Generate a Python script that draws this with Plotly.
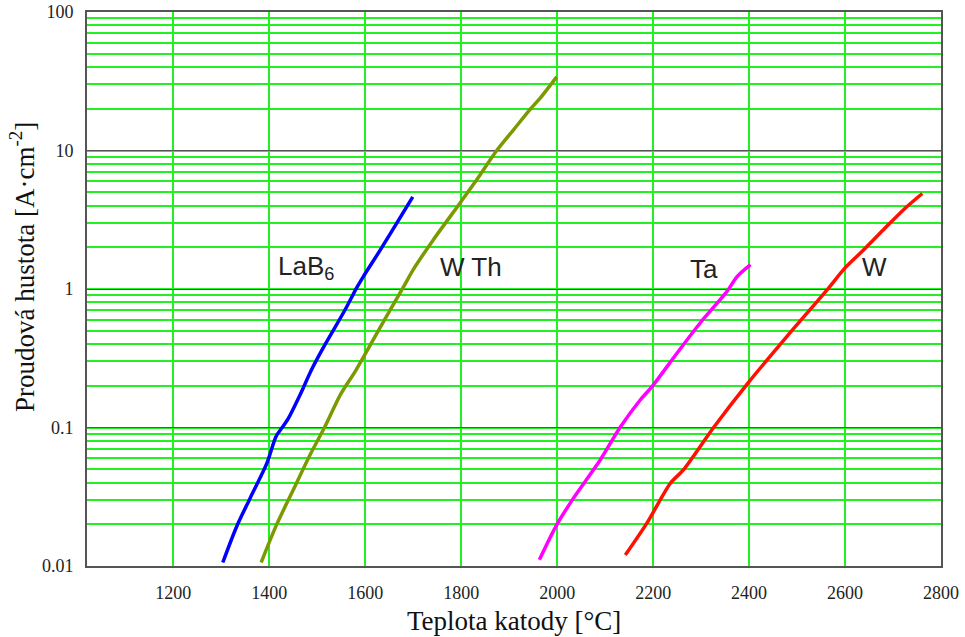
import math
import plotly.graph_objects as go

# Data (temperature in °C, current density in A/cm^2)
lab6_t = [1303, 1332, 1360, 1395, 1414, 1426, 1440, 1464, 1488, 1516, 1558, 1582, 1596, 1634, 1699]
lab6_j = [0.0106, 0.0193, 0.0309, 0.0553, 0.0861, 0.099, 0.117, 0.172, 0.261, 0.396, 0.708, 1.02, 1.23, 1.98, 4.62]

wth_t = [1383, 1415, 1450, 1485, 1516, 1548, 1581, 1630, 1680, 1700, 1742, 1798, 1833, 1874, 1909, 1944, 1965, 1999]
wth_j = [0.0106, 0.0198, 0.0355, 0.0636, 0.1016, 0.172, 0.261, 0.52, 1.04, 1.38, 2.27, 4.2, 6.2, 10.0, 14.1, 19.9, 24.0, 34.0]

ta_t = [1963, 1999, 2034, 2090, 2131, 2173, 2198, 2250, 2298, 2354, 2375, 2403]
ta_j = [0.0111, 0.0198, 0.0309, 0.0585, 0.1, 0.158, 0.198, 0.345, 0.568, 0.962, 1.23, 1.50]

w_t = [2142, 2187, 2236, 2263, 2326, 2398, 2479, 2563, 2600, 2632, 2680, 2722, 2761]
w_j = [0.0120, 0.0204, 0.0396, 0.0494, 0.1, 0.21, 0.455, 0.99, 1.42, 1.82, 2.68, 3.74, 4.89]

x_ticks = [1200, 1400, 1600, 1800, 2000, 2200, 2400, 2600, 2800]
y_ticks = [0.01, 0.1, 1, 10, 100]
y_ticktext = ["0.01", "0.1", "1", "10", "100"]

labels = ["LaB<sub>6</sub>", "W Th", "Ta", "W"]
label_t = [1477, 1821, 2306, 2662]
label_j = [1.43, 1.43, 1.40, 1.43]

series = [
    (lab6_t, lab6_j, "#0000ff"),
    (wth_t, wth_j, "#7a9a00"),
    (ta_t, ta_j, "#ff00ff"),
    (w_t, w_j, "#ff1000"),
]

SERIF = "Liberation Serif, Times New Roman, serif"
GREEN = "#22f022"

fig = go.Figure()
for t, j, c in series:
    fig.add_trace(go.Scatter(x=t, y=j, mode="lines",
                             line=dict(color=c, width=3.5, shape="spline", smoothing=0.8),
                             showlegend=False, hoverinfo="skip"))

for txt, t, j in zip(labels, label_t, label_j):
    # annotations on a log axis take log10 coordinates
    fig.add_annotation(x=t, y=math.log10(j), xref="x", yref="y", text=txt, showarrow=False,
                       font=dict(family="Liberation Sans, Arial", size=26, color="#222222"))

fig.add_annotation(x=0.5, y=-0.099, xref="paper", yref="paper", yanchor="middle",
                   text="Teplota katody [°C]", showarrow=False,
                   font=dict(family=SERIF, size=27, color="#111111"))
fig.add_annotation(x=-0.076, y=0.54, xref="paper", yref="paper", xanchor="center", yanchor="middle",
                   text="Proudová hustota [A·cm<sup>-2</sup>]", textangle=-90, showarrow=False,
                   font=dict(family=SERIF, size=27, color="#111111"))

fig.update_layout(
    width=965, height=637,
    margin=dict(l=87, r=24, t=12, b=71, autoexpand=False),
    plot_bgcolor="white", paper_bgcolor="white",
    font=dict(family=SERIF, size=18, color="#222222"),
    xaxis=dict(range=[1020, 2800], tickvals=x_ticks, showgrid=True, gridcolor=GREEN,
               gridwidth=1.5, zeroline=False, showline=True, linecolor="#555555", linewidth=2,
               mirror=True, ticks="", ticklabelstandoff=9, automargin=False,
               tickfont=dict(family=SERIF, size=18, color="#222222")),
    yaxis=dict(type="log", range=[-2, 2], tickvals=y_ticks, ticktext=y_ticktext,
               showgrid=True, gridcolor="#555555", gridwidth=1.4, zeroline=False,
               showline=True, linecolor="#555555", linewidth=2, mirror=True, ticks="",
               ticklabelstandoff=8, automargin=False,
               minor=dict(dtick="D1", showgrid=True, gridcolor=GREEN, gridwidth=1.5),
               tickfont=dict(family=SERIF, size=18, color="#222222")),
)

fig.write_html("out.html")
